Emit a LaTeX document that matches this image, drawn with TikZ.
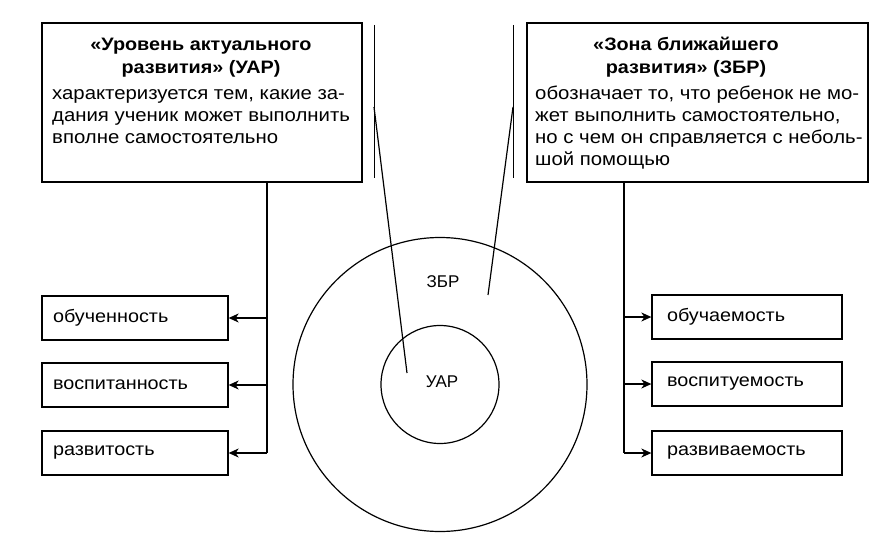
\documentclass[tikz,border=0pt]{standalone}
\usepackage{fontspec}
\setmainfont{Liberation Sans}
\newfontfamily\widesans[FakeStretch=1.1]{Liberation Sans}
\usetikzlibrary{arrows.meta}
\begin{document}
\begin{tikzpicture}[x=1pt,y=-1pt,
  bigbox/.style={draw, line width=1.6pt, inner sep=0pt},
  smallbox/.style={draw, line width=1.3pt, minimum height=44pt, inner sep=0pt, align=left, font=\widesans\fontsize{18}{22}\selectfont},
  ttl/.style={font=\widesans\bfseries\fontsize{18}{23}\selectfont, align=center, inner sep=0pt},
  txt/.style={font=\widesans\fontsize{18.5}{22}\selectfont, align=left, inner sep=0pt},
  lbl/.style={font=\fontsize{17}{22}\selectfont, inner sep=0pt},
  conn/.style={line width=1.2pt},
  arr/.style={line width=1.2pt, -{Stealth[length=10pt,width=9pt,inset=3pt]}},
  thin/.style={line width=0.9pt}]
\useasboundingbox (0,0) rectangle (885,553);

% big boxes
\node[bigbox, minimum width=320pt, minimum height=159pt] (ual) at (202,102.5) {};
\node[ttl, anchor=base] (ualt) at (201,74) {«Уровень актуального\\развития» (УАР)};
\node[txt, anchor=base west] (uald) at (52,144) {характеризуется тем, какие за-\\дания ученик может выполнить\\вполне самостоятельно};

\node[bigbox, minimum width=341pt, minimum height=159pt] (zbl) at (697.5,102.5) {};
\node[ttl, anchor=base] (zblt) at (686,74) {«Зона ближайшего\\развития» (ЗБР)};
\node[txt, anchor=base west] (zbld) at (535,166) {обозначает то, что ребенок не мо-\\жет выполнить самостоятельно,\\но с чем он справляется с неболь-\\шой помощью};

% small boxes left
\node[smallbox, minimum width=186pt, text width=164pt] (l1) at (135,318) {обученность};
\node[smallbox, minimum width=186pt, text width=164pt] (l2) at (135,385) {воспитанность};
\node[smallbox, minimum width=186pt, text width=164pt] (l3) at (135,453) {развитость};

% small boxes right
\node[smallbox, minimum width=190pt, text width=160pt] (r1) at (747,317) {обучаемость};
\node[smallbox, minimum width=190pt, text width=160pt] (r2) at (747,384) {воспитуемость};
\node[smallbox, minimum width=190pt, text width=160pt] (r3) at (747,453) {развиваемость};

% circles
\node[draw, circle, line width=1.2pt, minimum size=294pt, inner sep=0pt] (outer) at (440,384.5) {};
\node[draw, circle, line width=1.2pt, minimum size=118pt, inner sep=0pt] (inner) at (440,384.5) {};
\node[lbl] (zbrlab) at (443,282) {ЗБР};
\node[lbl] (uarlab) at (442,382) {УАР};

% trunks
\coordinate (lj) at (267,453);
\coordinate (rj) at (624,453);
\draw[conn] (ual.south -| lj) -- (lj);
\draw[conn] (zbl.south -| rj) -- (rj);
\draw[arr] (l1.east -| lj) -- (l1.east);
\draw[arr] (l2.east -| lj) -- (l2.east);
\draw[arr] (lj) -- (l3.east);
\draw[arr] (r1.west -| rj) -- (r1.west);
\draw[arr] (r2.west -| rj) -- (r2.west);
\draw[arr] (rj) -- (r3.west);

% bracket callouts
\coordinate (lbt) at (374,25);
\coordinate (lbb) at (374,178);
\coordinate (lbm) at (374,107);
\coordinate (lbe) at (407,373);
\draw[thin] (lbt) -- (lbb);
\draw[conn] (lbm) -- (lbe);
\coordinate (rbt) at (513,25);
\coordinate (rbb) at (513,178);
\coordinate (rbm) at (513,107);
\coordinate (rbe) at (488,295);
\draw[thin] (rbt) -- (rbb);
\draw[conn] (rbm) -- (rbe);
\end{tikzpicture}
\end{document}
